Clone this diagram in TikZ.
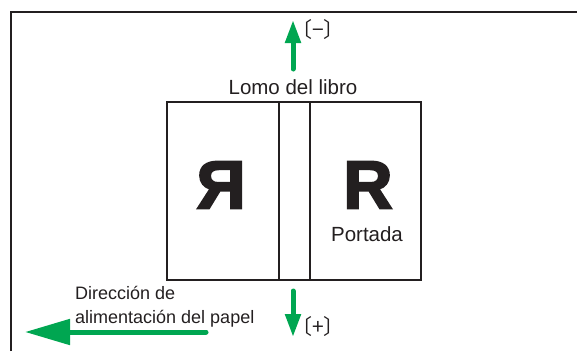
\documentclass[tikz,border=0pt]{standalone}
\usepackage{fontspec}
\setmainfont{Liberation Sans}
\newfontfamily\cjk{Noto Sans CJK JP}
\newfontfamily\gruesa[FakeBold=3]{Liberation Sans Bold}
\usetikzlibrary{arrows.meta}
\definecolor{verdeflecha}{RGB}{0,166,81}
\definecolor{tinta}{RGB}{35,31,32}
\begin{document}
\begin{tikzpicture}[x=1pt,y=-1pt]
			% Estilos
			\tikzstyle{marco}=[draw=tinta,line width=2pt]
			\tikzstyle{pagina}=[draw=tinta,line width=1.8pt]
			\tikzstyle{flecha}=[draw=verdeflecha,line width=5pt,line cap=round,-{Triangle[length=23pt,width=15pt]}]
			\tikzstyle{flechalarga}=[draw=verdeflecha,line width=5pt,line cap=round,-{Triangle[length=45pt,width=25pt]}]
			\tikzstyle{texto}=[text=tinta,inner sep=0pt,font=\fontsize{20.5}{24}\selectfont]
			\tikzstyle{letra}=[text=tinta,inner sep=0pt,font=\gruesa\fontsize{68}{68}\selectfont]
			\tikzstyle{signo}=[text=tinta,inner sep=0pt,font=\cjk\fontsize{21}{21}\selectfont]
			% Dimensiones
			\def\LibroIzq{167}
			\def\LibroDer{421}
			\def\LibroArr{102}
			\def\LibroAbj{280}
			\def\LomoIzq{279}
			\def\LomoDer{310}
			\useasboundingbox (0,0) rectangle (577,351);
			% Marco
			\draw[marco] (11,351) -- (11,12) -- (577,12);
			% Libro
			\draw[pagina] (\LibroIzq,\LibroArr) rectangle (\LibroDer,\LibroAbj);
			\draw[pagina] (\LomoIzq,\LibroArr) -- (\LomoIzq,\LibroAbj);
			\draw[pagina] (\LomoDer,\LibroArr) -- (\LomoDer,\LibroAbj);
			% Nodos
			\node[texto] (lomo) at (293,87) {Lomo del libro};
			\node[letra] (Rinv) at (221,185) {\scalebox{-1}[1]{R}};
			\node[letra] (R) at (368,185) {R};
			\node[texto] (portada) at (367,234) {Portada};
			\node[signo] (menos) at (318,30) {〔−〕};
			\node[signo] (mas) at (318,327) {〔+〕};
			\node[texto,anchor=west,align=left,font=\fontsize{18}{24}\selectfont] (direccion) at (75,307) {Dirección de\\alimentación del papel};
			\coordinate (arribaA) at (293,69);
			\coordinate (arribaB) at (293,20);
			\coordinate (abajoA) at (293,291);
			\coordinate (abajoB) at (293,337);
			\coordinate (papelA) at (206,332);
			\coordinate (papelB) at (25,332);
			% Flechas
			\draw[flecha] (arribaA) -- (arribaB);
			\draw[flecha] (abajoA) -- (abajoB);
			\draw[flechalarga] (papelA) -- (papelB);
		\end{tikzpicture}
\end{document}
